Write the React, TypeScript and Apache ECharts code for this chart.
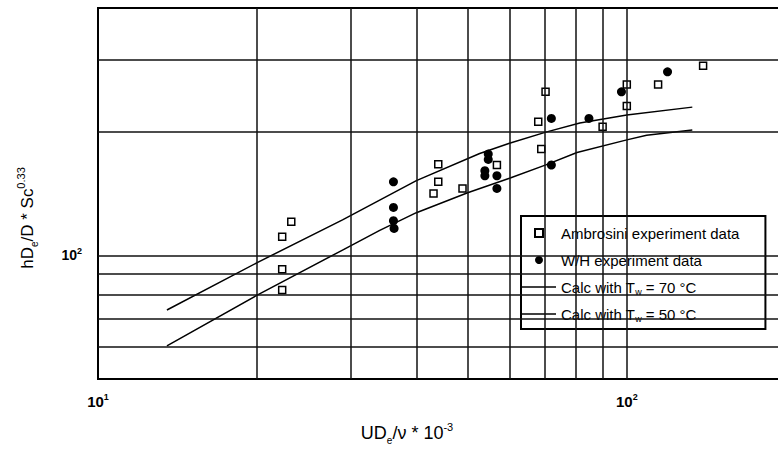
import React, { useEffect, useRef } from 'react';
import * as echarts from 'echarts';

// Ambrosini experiment data (open squares)
const ambrosiniX = [22.3, 23.2, 22.3, 22.3, 44.0, 44.0, 43.1, 48.9, 56.8, 68.9, 68.0, 70.2, 90.0, 100, 100, 114.6, 139.4];
const ambrosiniY = [111, 120.7, 92.5, 82.3, 166.5, 151, 141.5, 145.5, 165.9, 181.4, 211.4, 250, 205.6, 230.8, 260.6, 260.6, 289.2];

// W/H experiment data (filled circles)
const whX = [36.2, 36.2, 36.2, 36.3, 54.7, 54.7, 53.9, 53.9, 56.8, 56.8, 72.0, 72.0, 84.8, 97.7, 119.4];
const whY = [151, 130.8, 121.4, 116.3, 176.4, 171.2, 160.7, 156.2, 156.2, 145.5, 215.4, 165.9, 215.4, 250, 279.7];

// Calculated curves
const calc70X = [13.5, 20, 29, 40, 52.7, 60, 70.3, 81.5, 100, 133];
const calc70Y = [73.6, 96, 122, 152, 177, 187.5, 199.5, 210, 219.5, 229.5];
const calc50X = [13.5, 20, 29, 34.1, 40, 50, 60, 70.3, 80.5, 100, 109, 133];
const calc50Y = [60.2, 80, 103, 115, 127, 142, 154, 166, 178, 191, 196, 202];

// Grid lines of the log-log paper
const xGridValues = [20, 30, 40, 50, 60, 70, 80, 90, 100];
const yGridValues = [60, 70, 80, 90, 100, 200, 300];

// Decade tick labels
const xTickLabels = [
  { value: 10, text: '10{sup|1}' },
  { value: 100, text: '10{sup|2}' },
];
const yTickLabels = [{ value: 100, text: '10{sup|2}' }];

const seriesNames = [
  'Ambrosini experiment data',
  'W/H experiment data',
  'Calc with Tw = 70 °C',
  'Calc with Tw = 50 °C',
];

const FONT = 'Liberation Sans, Arial, sans-serif';
const LINE_ICON = 'path://M0,0H34V1.5H0Z';
const SQUARE_ICON = 'path://M0,0H10V10H0Z';

const zip = (xs: number[], ys: number[]) => xs.map((x, i) => [x, ys[i]]);

const pickLabel = (list: { value: number; text: string }[]) => (v: number) => {
  const hit = list.find((t) => Math.abs(t.value - v) / t.value < 1e-3);
  return hit ? hit.text : '';
};

const tickRich = {
  sup: { fontSize: 9, lineHeight: 9, verticalAlign: 'top', fontWeight: 'bold', fontFamily: FONT, color: '#000' },
};

const titleRich = {
  sub: { fontSize: 10, lineHeight: 10, verticalAlign: 'bottom', fontFamily: FONT, fill: '#000' },
  sup: { fontSize: 11, lineHeight: 11, verticalAlign: 'top', fontFamily: FONT, fill: '#000' },
};

export default function App() {
  const ref = useRef<HTMLDivElement>(null);

  useEffect(() => {
    if (!ref.current) return;
    const chart = echarts.init(ref.current, undefined, { renderer: 'svg' });

    const option: any = {
      animation: false,
      backgroundColor: '#fff',
      grid: {
        left: 98,
        top: 8,
        width: 688,
        height: 371,
        outerBoundsMode: 'none',
        containLabel: false,
        show: true,
        borderColor: '#000',
        borderWidth: 2,
        backgroundColor: 'transparent',
      },
      xAxis: {
        type: 'log',
        logBase: 10,
        min: 10,
        max: 200,
        axisLine: { show: false },
        axisTick: { show: false },
        splitLine: { show: false },
        axisLabel: {
          margin: 13,
          fontSize: 15,
          fontWeight: 'bold',
          fontFamily: FONT,
          color: '#000',
          lineHeight: 18,
          showMinLabel: true,
          formatter: pickLabel(xTickLabels),
          rich: tickRich,
        },
      },
      yAxis: {
        type: 'log',
        logBase: 10,
        min: 50,
        max: 400,
        axisLine: { show: false },
        axisTick: { show: false },
        splitLine: { show: false },
        axisLabel: {
          margin: 16,
          fontSize: 14,
          fontWeight: 'bold',
          fontFamily: FONT,
          color: '#000',
          lineHeight: 18,
          formatter: pickLabel(yTickLabels),
          rich: tickRich,
        },
      },
      legend: {
        orient: 'vertical',
        left: 521,
        top: 216,
        data: [
          { name: seriesNames[0], icon: SQUARE_ICON },
          { name: seriesNames[1], icon: 'circle' },
          { name: seriesNames[2], icon: LINE_ICON },
          { name: seriesNames[3], icon: LINE_ICON },
        ],
        itemWidth: 34,
        itemHeight: 8,
        itemGap: 9,
        padding: [8, 26, 6, 1],
        borderColor: '#000',
        borderWidth: 2,
        backgroundColor: '#fff',
        selectedMode: false,
        formatter: (name: string) => name.replace('Tw', 'T{sub|w}'),
        textStyle: {
          fontFamily: FONT,
          fontSize: 15,
          color: '#000',
          lineHeight: 18,
          rich: {
            sub: { fontSize: 9, lineHeight: 9, verticalAlign: 'bottom', fontFamily: FONT, color: '#000' },
          },
        },
      },
      graphic: [
        {
          type: 'text',
          x: 407,
          y: 433,
          style: {
            text: 'UD{sub|e}/ν * 10{sup|-3}',
            fontFamily: FONT,
            fontSize: 18,
            lineHeight: 24,
            fill: '#000',
            align: 'center',
            verticalAlign: 'middle',
            rich: titleRich,
          },
        },
        {
          type: 'text',
          x: 27,
          y: 218,
          rotation: Math.PI / 2,
          style: {
            text: 'hD{sub|e}/D * Sc{sup|0.33}',
            fontFamily: FONT,
            fontSize: 17,
            lineHeight: 24,
            fill: '#000',
            align: 'center',
            verticalAlign: 'middle',
            rich: titleRich,
          },
        },
      ],
      series: [
        {
          name: 'paper',
          type: 'line',
          data: [],
          silent: true,
          z: 1,
          markLine: {
            silent: true,
            symbol: ['none', 'none'],
            label: { show: false },
            emphasis: { disabled: true },
            lineStyle: { color: '#111', width: 1.5, type: 'solid' },
            data: [
              ...xGridValues.map((v) => ({ xAxis: v })),
              ...yGridValues.map((v) => ({ yAxis: v })),
            ],
          },
        },
        {
          name: seriesNames[2],
          type: 'line',
          data: zip(calc70X, calc70Y),
          symbol: 'none',
          color: '#000',
          lineStyle: { color: '#000', width: 1.5 },
          z: 3,
        },
        {
          name: seriesNames[3],
          type: 'line',
          data: zip(calc50X, calc50Y),
          symbol: 'none',
          color: '#000',
          lineStyle: { color: '#000', width: 1.5 },
          z: 3,
        },
        {
          name: seriesNames[0],
          type: 'scatter',
          data: zip(ambrosiniX, ambrosiniY),
          symbol: 'rect',
          symbolSize: 7,
          itemStyle: { color: '#fff', borderColor: '#000', borderWidth: 1.5, opacity: 1 },
          z: 4,
        },
        {
          name: seriesNames[1],
          type: 'scatter',
          data: zip(whX, whY),
          symbol: 'circle',
          symbolSize: 9,
          itemStyle: { color: '#000', opacity: 1 },
          z: 4,
        },
      ],
    };

    chart.setOption(option);
    return () => chart.dispose();
  }, []);

  return (
    <div
      ref={ref}
      style={{ position: 'absolute', left: 0, top: 0, width: 778, height: 452, overflow: 'hidden' }}
    />
  );
}
